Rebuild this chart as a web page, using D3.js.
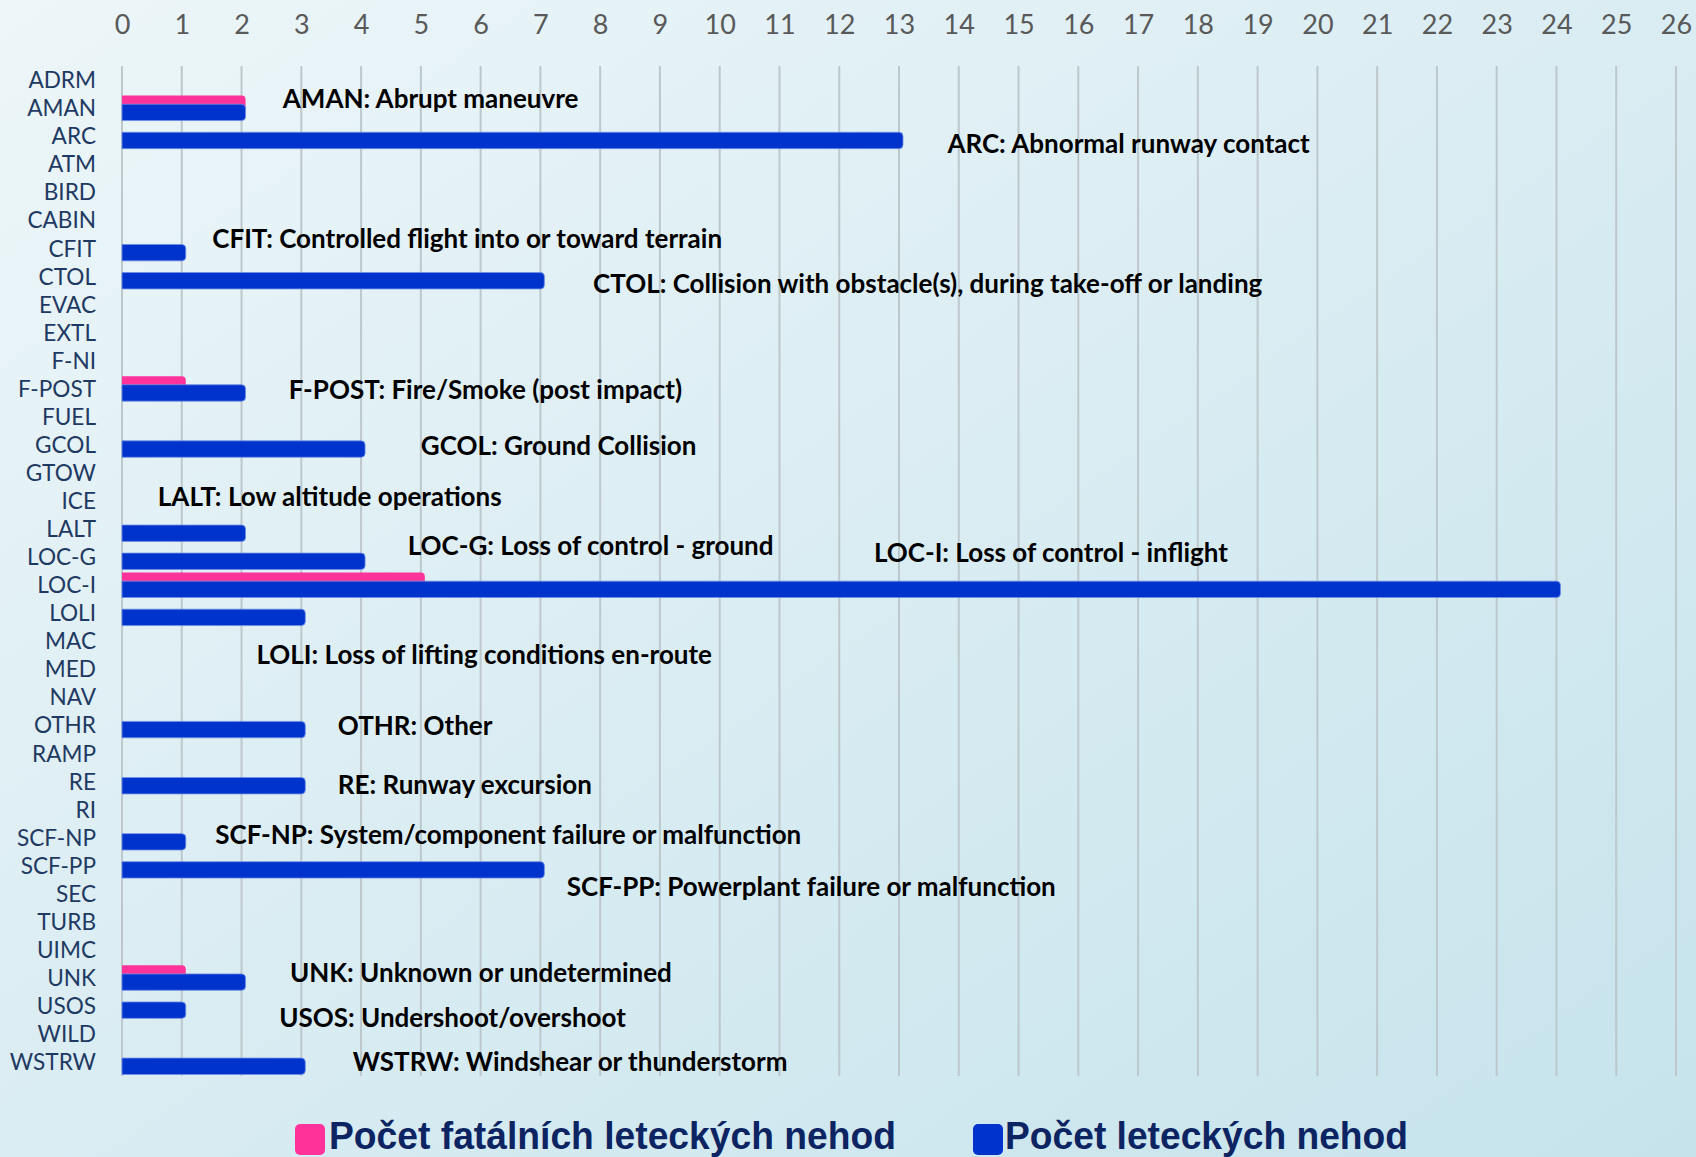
<!DOCTYPE html>
<html>
<head>
<meta charset="utf-8">
<script src="https://cdn.jsdelivr.net/npm/d3@7"></script>
<style>
  html, body { margin: 0; padding: 0; }
  body { width: 1696px; height: 1157px; overflow: hidden; }
</style>
</head>
<body>
<svg id="chart" width="1696" height="1157"></svg>
<script>
const categories = ["ADRM","AMAN","ARC","ATM","BIRD","CABIN","CFIT","CTOL","EVAC","EXTL","F-NI","F-POST","FUEL","GCOL","GTOW","ICE","LALT","LOC-G","LOC-I","LOLI","MAC","MED","NAV","OTHR","RAMP","RE","RI","SCF-NP","SCF-PP","SEC","TURB","UIMC","UNK","USOS","WILD","WSTRW"];
const fatalAccidents = [0,2,0,0,0,0,0,0,0,0,0,1,0,0,0,0,0,0,5,0,0,0,0,0,0,0,0,0,0,0,0,0,1,0,0,0];
const allAccidents   = [0,2,13,0,0,0,1,7,0,0,0,2,0,4,0,0,2,4,24,3,0,0,0,3,0,3,0,1,7,0,0,0,2,1,0,3];
const xTicks = d3.range(0, 27);
const seriesNames = ["Počet fatálních leteckých nehod", "Počet leteckých nehod"];
// annotation: text, x position (axis units), row position (category index units)
const annotTexts = ["AMAN: Abrupt maneuvre","ARC: Abnormal runway contact","CFIT: Controlled flight into or toward terrain","CTOL: Collision with obstacle(s), during take-off or landing","F-POST: Fire/Smoke (post impact)","GCOL: Ground Collision","LALT: Low altitude operations","LOC-G: Loss of control - ground","LOC-I: Loss of control - inflight","LOLI: Loss of lifting conditions en-route","OTHR: Other","RE: Runway excursion","SCF-NP: System/component failure or malfunction","SCF-PP: Powerplant failure or malfunction","UNK: Unknown or undetermined","USOS: Undershoot/overshoot","WSTRW: Windshear or thunderstorm"];
const annotX   = [2.69,13.81,1.51,7.88,2.79,5.00,0.60,4.78,12.58,2.25,3.61,3.61,1.56,7.44,2.81,2.63,3.86];
const annotRow = [0.66,2.28,5.67,7.25,11.03,13.03,14.84,16.61,16.85,20.47,23.02,25.13,26.91,28.76,31.80,33.42,35.0];

const colors = { fatal: "#ff3399", all: "#0033cc" };
const W = 1696, H = 1157;
const svg = d3.select("#chart");

// background gradient
const defs = svg.append("defs");
const grad = defs.append("linearGradient").attr("id","bg").attr("x1","0").attr("y1","0").attr("x2","1").attr("y2","1");
grad.append("stop").attr("offset","0%").attr("stop-color","#edf6f9");
grad.append("stop").attr("offset","100%").attr("stop-color","#c6e3ec");
svg.append("rect").attr("width",W).attr("height",H).attr("fill","url(#bg)");

const x = d3.scaleLinear().domain([0, 26]).range([122, 1676]);
const y = d3.scaleBand().domain(categories).range([66, 1076]).padding(0);
const row = d3.scaleLinear().domain([0, 1]).range([y(categories[0]) + y.bandwidth()/2, y(categories[0]) + y.bandwidth()*1.5]);

const font = "Lato, 'Open Sans', sans-serif";

// gridlines
svg.append("g").selectAll("line").data(xTicks).join("line")
  .attr("x1", d => x(d)).attr("x2", d => x(d))
  .attr("y1", y.range()[0]).attr("y2", y.range()[1])
  .attr("stroke", "#bcc8cc").attr("stroke-width", 2);

// top axis labels
const xAxis = d3.axisTop(x).tickValues(xTicks).tickSize(0).tickPadding(0).tickFormat(d3.format("d"));
const gx = svg.append("g").attr("transform", "translate(0,34)").call(xAxis);
gx.select(".domain").remove();
gx.selectAll("text").attr("font-family", font).attr("font-size", 27).attr("fill", "#595959").attr("dy", 0);

// left axis labels
const yAxis = d3.axisLeft(y).tickSize(0).tickPadding(0);
const gy = svg.append("g").attr("transform", "translate(96,0)").call(yAxis);
gy.select(".domain").remove();
gy.selectAll("text").attr("font-family", font).attr("font-size", 22.6).attr("fill", "#1f3a62").attr("dy", "0.36em");

// bars: right end rounded
const barH = 16.4, off = 4.3, ext = 4, r = 4;
function barPath(x0, x1, yc) {
  const t = yc - barH/2, b = yc + barH/2;
  return `M${x0},${t}H${x1 - r}Q${x1},${t} ${x1},${t + r}V${b - r}Q${x1},${b} ${x1 - r},${b}H${x0}Z`;
}
const bc = c => y(c) + y.bandwidth()/2;

svg.append("g").selectAll("path").data(categories.map((c,i)=>({c, v: fatalAccidents[i]})).filter(d => d.v > 0))
  .join("path")
  .attr("d", d => barPath(x(0), x(d.v) + ext, bc(d.c) - off))
  .attr("fill", colors.fatal);

svg.append("g").selectAll("path").data(categories.map((c,i)=>({c, v: allAccidents[i]})).filter(d => d.v > 0))
  .join("path")
  .attr("d", d => barPath(x(0), x(d.v) + ext, bc(d.c) + off))
  .attr("fill", colors.all)
  .attr("stroke", "#6f8fe6").attr("stroke-width", 0.8);

// annotations
svg.append("g").selectAll("text").data(annotTexts.map((t,i)=>({t, xv: annotX[i], r: annotRow[i]})))
  .join("text")
  .attr("x", d => x(d.xv)).attr("y", d => row(d.r)).attr("dy", "0.36em")
  .attr("font-family", font).attr("font-weight", 700).attr("font-size", 26)
  .attr("fill", "#000").text(d => d.t);

// legend
const legend = [
  { name: seriesNames[0], color: colors.fatal, sx: 295, tx: 329, tw: 567 },
  { name: seriesNames[1], color: colors.all, sx: 973, tx: 1005, tw: 403 }
];
const lg = svg.append("g");
lg.selectAll("rect").data(legend).join("rect")
  .attr("x", d => d.sx).attr("y", 1124).attr("width", 30).attr("height", 31).attr("rx", 5)
  .attr("fill", d => d.color);
lg.selectAll("text").data(legend).join("text")
  .attr("x", d => d.tx).attr("y", 1149)
  .attr("font-family", "'Liberation Sans Narrow', 'Arial Narrow', 'Liberation Sans', sans-serif")
  .attr("font-weight", 700).attr("font-size", 38).attr("fill", "#0d2463")
  .attr("textLength", d => d.tw).attr("lengthAdjust", "spacingAndGlyphs")
  .text(d => d.name);
</script>
</body>
</html>
